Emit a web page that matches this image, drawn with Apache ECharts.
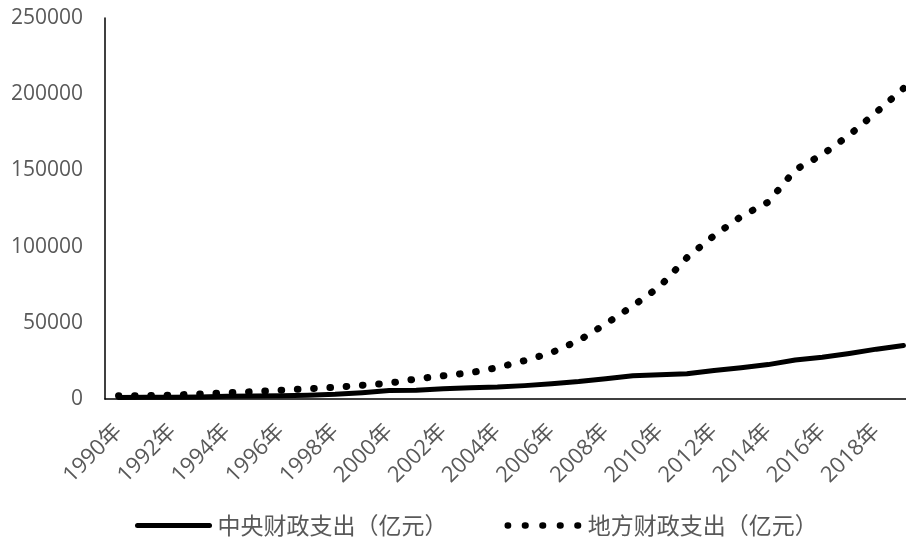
<!DOCTYPE html>
<html>
<head>
<meta charset="utf-8">
<script src="https://cdn.jsdelivr.net/npm/echarts@6/dist/echarts.min.js"></script>
<style>
  html, body { margin: 0; padding: 0; background: #fff; }
  #chart { width: 906px; height: 539px; }
</style>
</head>
<body>
<div id="chart"></div>
<script>
// 年份
const years = [
  '1990年','1991年','1992年','1993年','1994年','1995年','1996年','1997年','1998年','1999年',
  '2000年','2001年','2002年','2003年','2004年','2005年','2006年','2007年','2008年','2009年',
  '2010年','2011年','2012年','2013年','2014年','2015年','2016年','2017年','2018年','2019年'
];
// 中央财政支出（亿元）
const centralSpending = [
  1004.47, 1090.81, 1170.44, 1312.06, 1754.43, 1995.39, 2151.27, 2532.50, 3125.60, 4152.33,
  5519.85, 5768.02, 6771.70, 7420.10, 7894.08, 8775.97, 9991.40, 11442.06, 13344.17, 15255.79,
  15989.73, 16514.11, 18764.63, 20471.76, 22570.07, 25542.15, 27403.85, 29857.15, 32707.81, 35115.15
];
// 地方财政支出（亿元）
const localSpending = [
  2079.12, 2295.81, 2571.76, 3330.24, 4038.19, 4828.33, 5786.28, 6701.06, 7672.58, 9035.34,
  10366.65, 13134.56, 15281.45, 17229.85, 20592.81, 25154.31, 30431.33, 38339.29, 49248.49, 61044.14,
  73884.43, 92733.68, 107188.34, 119740.34, 129215.49, 150335.62, 160351.36, 173228.34, 188196.32, 203743.22
];
const seriesNames = ['中央财政支出（亿元）', '地方财政支出（亿元）'];

const textColor = '#595959';
const fontFamily = '"Open Sans", "Noto Sans CJK SC", sans-serif';
const dotGap = 16.3;   // nominal spacing of the round dots
const dotLen = 0.6;

const chart = echarts.init(document.getElementById('chart'), null, { renderer: 'canvas' });
chart.setOption({
  animation: false,
  backgroundColor: '#ffffff',
  // plot area runs past the right edge of the canvas
  grid: {
    left: 105, top: 18, height: 381, width: 812,
    containLabel: false, outerBoundsMode: 'none'
  },
  legend: {
    top: 514,
    left: 135,
    padding: 0,
    itemWidth: 72,
    itemHeight: 26,
    itemGap: 57,
    itemStyle: { opacity: 0 },
    textStyle: {
      color: textColor, fontSize: 23, padding: [0, 0, 0, 3],
      fontFamily: '"Noto Sans CJK SC", sans-serif'
    },
    data: [
      { name: seriesNames[0], lineStyle: { color: '#000', width: 5, cap: 'round' } },
      { name: seriesNames[1], lineStyle: { color: '#000', width: 6.5, type: [dotLen, 17.5 - dotLen], cap: 'round' } }
    ]
  },
  xAxis: {
    type: 'category',
    data: years,
    boundaryGap: true,
    axisLine: { show: true, lineStyle: { color: '#000', width: 1.5 } },
    axisTick: { show: false },
    axisLabel: {
      interval: 1,
      rotate: 45,
      margin: 29,
      color: textColor,
      fontSize: 22,
      fontFamily: fontFamily
    },
    splitLine: { show: false }
  },
  yAxis: {
    type: 'value',
    min: 0,
    max: 250000,
    interval: 50000,
    axisLine: { show: true, lineStyle: { color: '#000', width: 1.5 } },
    axisTick: { show: false },
    axisLabel: {
      color: textColor, fontSize: 21, fontFamily: fontFamily, margin: 22,
      formatter: function (v) { return String(v); }
    },
    splitLine: { show: false }
  },
  series: [
    {
      name: seriesNames[0],
      type: 'line',
      data: centralSpending,
      symbol: 'none',
      lineStyle: { color: '#000', width: 5, cap: 'round', join: 'round' },
      itemStyle: { color: '#000' }
    },
    {
      name: seriesNames[1],
      type: 'line',
      data: localSpending,
      symbol: 'none',
      lineStyle: {
        color: '#000', width: 7, type: [dotLen, dotGap - dotLen],
        dashOffset: dotLen / 2, cap: 'round', join: 'round'
      },
      itemStyle: { color: '#000' }
    }
  ]
});

// Stretch the dot spacing slightly so that dots fall on both ends of the dotted line
(function fitDots() {
  let total = 0, prev = null;
  localSpending.forEach(function (v, i) {
    const p = chart.convertToPixel({ gridIndex: 0 }, [i, v]);
    if (prev) total += Math.hypot(p[0] - prev[0], p[1] - prev[1]);
    prev = p;
  });
  const n = Math.max(1, Math.round(total / dotGap));
  const period = total / n;
  chart.setOption({
    series: [{}, { lineStyle: { type: [dotLen, period - dotLen], dashOffset: dotLen / 2 } }]
  });
})();
</script>
</body>
</html>
